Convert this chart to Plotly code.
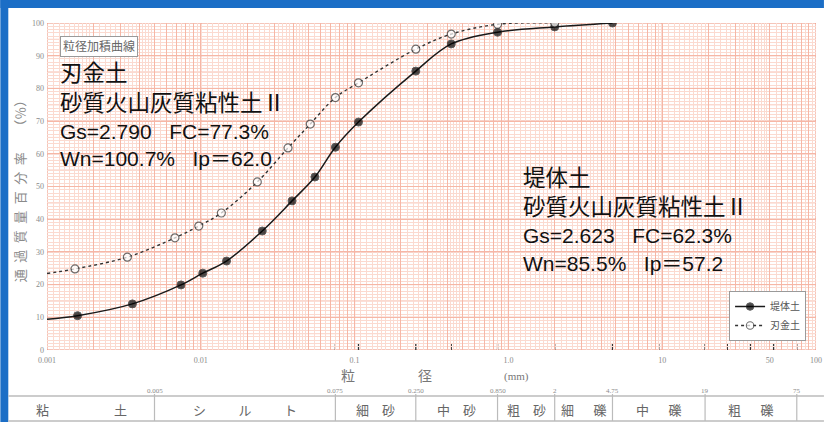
import math
import plotly.graph_objects as go

# ---------------- data ----------------
# 堤体土 (embankment soil): grain size (mm) / percent passing
d_embank = [0.00158, 0.00359, 0.00743, 0.0103, 0.0147, 0.0251, 0.0392, 0.0552,
            0.075, 0.106, 0.25, 0.425, 0.85, 2.0, 4.75]
p_embank = [10.5, 14.1, 19.9, 23.5, 27.2, 36.4, 45.6, 52.9,
            62.0, 69.7, 85.3, 93.6, 97.2, 98.8, 100.0]
# 刃金土 (core soil)
d_core = [0.00152, 0.00333, 0.00679, 0.0097, 0.0136, 0.0233, 0.0369, 0.0515,
          0.075, 0.106, 0.25, 0.425, 0.85, 2.0]
p_core = [24.8, 28.4, 34.3, 37.9, 41.9, 51.4, 61.8, 69.1,
          77.2, 81.7, 92.0, 96.6, 99.6, 100.0]
# curves drawn on to the left edge of the chart (no marker there)
d_left_edge = 0.001
p_embank_left = 9.4
p_core_left = 23.4

series_names = ["堤体土", "刃金土"]

sieve_sizes = [0.075, 0.106, 0.25, 0.425, 0.85, 2, 4.75, 9.5, 19, 26.5, 37.5, 53, 75]
x_decades = [0.001, 0.01, 0.1, 1, 10, 100]
x_decade_text = ["0.001", "0.01", "0.1", "1.0", "10", "100"]
x_extra_label_val = 50
x_extra_label_text = "50"
y_tick_vals = list(range(0, 101, 10))

class_bounds = [0.005, 0.075, 0.25, 0.85, 2, 4.75, 19, 75]
class_bound_labels = ["0.005", "0.075", "0.250", "0.850", "2", "4.75", "19", "75"]
class_names = ["粘　　　　　土", "シ　　\u2002ル　　\u2002ト", "細　砂", "中　砂", "粗　砂",
               "細\u3000\u2002礫", "中\u3000\u2002礫", "粗\u3000\u2002礫"]

left_text = ["刃金土", "砂質火山灰質粘性土Ⅱ", "Gs=2.790   FC=77.3%", "Wn=100.7%   Ip＝62.0"]
right_text = ["堤体土", "砂質火山灰質粘性土Ⅱ", "Gs=2.623   FC=62.3%", "Wn=85.5%   Ip＝57.2"]

# ---------------- layout helpers ----------------
W, H = 830, 422
L, R, T, B = 47, 8, 23, 72
PW, PH = W - L - R, H - T - B


def fx(px):
    return (px - L) / PW


def fy(py):
    return (H - B - py) / PH


# grid positions of log paper
medium_x = [m * 10 ** e for e in range(-3, 2) for m in range(2, 10)]
fine_steps = [1.1, 1.2, 1.3, 1.4, 1.5, 1.6, 1.7, 1.8, 1.9,
              2.2, 2.4, 2.6, 2.8, 3.2, 3.4, 3.6, 3.8, 4.2, 4.4, 4.6, 4.8,
              5.5, 6.5, 7.5, 8.5, 9.5]
fine_x = [s * 10 ** e for e in range(-3, 2) for s in fine_steps]

x_tick_all = sorted(x_decades + medium_x)


def x_label(v):
    for d, t in zip(x_decades, x_decade_text):
        if abs(v - d) < 1e-12:
            return t
    if abs(v - x_extra_label_val) < 1e-9:
        return x_extra_label_text
    return ""


GRID_FINE = "#fbdad0"
GRID_MED = "#f6b7a6"
GRID_DARK = "#ec8d77"
SERIF = "Liberation Serif, Noto Sans CJK JP"
SANS = "Liberation Sans, Noto Sans CJK JP"

fig = go.Figure()

fig.add_trace(go.Scatter(
    x=[d_left_edge] + d_embank, y=[p_embank_left] + p_embank,
    mode="lines+markers", name=series_names[0],
    line=dict(color="#1a1a1a", width=1.5, shape="spline", smoothing=1.0),
    marker=dict(size=[0] + [8] * len(d_embank), color="#000000"),
))
fig.add_trace(go.Scatter(
    x=[d_left_edge] + d_core, y=[p_core_left] + p_core,
    mode="lines+markers", name=series_names[1],
    line=dict(color="#333333", width=1.4, dash="dot", shape="spline", smoothing=1.0),
    marker=dict(size=[0] + [8] * len(d_core), color="white",
                line=dict(color="#333333", width=[0] + [1.2] * len(d_core))),
))

xrange_log = [math.log10(x_decades[0]), math.log10(x_decades[-1])]
tickfont = dict(family=SERIF, size=8, color="#8a8a8a")

fig.update_layout(
    width=W, height=H,
    margin=dict(l=L, r=R, t=T, b=B),
    paper_bgcolor="white", plot_bgcolor="white",
    showlegend=True,
    legend=dict(x=fx(812), xanchor="right", y=fy(341), yanchor="bottom",
                bgcolor="white", bordercolor="#9a9a9a", borderwidth=1,
                font=dict(family=SERIF, size=10, color="#555555"),
                tracegroupgap=0, itemwidth=30),
    xaxis=dict(type="log", range=xrange_log,
               tickvals=x_tick_all, ticktext=[x_label(v) for v in x_tick_all],
               tickfont=tickfont, ticks="", ticklabelstandoff=4,
               showgrid=True, gridcolor=GRID_MED, gridwidth=1,
               minor=dict(tickvals=fine_x, showgrid=True, gridcolor=GRID_FINE, gridwidth=1, ticks=""),
               zeroline=False, showline=False, fixedrange=True),
    yaxis=dict(range=[0, 100], tickvals=y_tick_vals, tickfont=tickfont, ticks="",
               ticklabelstandoff=2,
               showgrid=True, gridcolor=GRID_MED, gridwidth=1,
               minor=dict(dtick=1, showgrid=True, gridcolor=GRID_FINE, gridwidth=1, ticks=""),
               zeroline=False, showline=False, fixedrange=True),
)

shapes = []
annotations = []

# darker log-paper lines (decades, every 10 %), medium lines at 5 %
for d in x_decades:
    shapes.append(dict(type="line", xref="x", yref="paper", x0=d, x1=d, y0=0, y1=1,
                       line=dict(color=GRID_DARK, width=1), layer="between"))
for v in y_tick_vals:
    shapes.append(dict(type="line", xref="paper", yref="y", x0=0, x1=1, y0=v, y1=v,
                       line=dict(color=GRID_DARK, width=1), layer="between"))
for v in y_tick_vals[:-1]:
    shapes.append(dict(type="line", xref="paper", yref="y", x0=0, x1=1, y0=v + 5, y1=v + 5,
                       line=dict(color=GRID_MED, width=1), layer="between"))
# sieve tick marks along the bottom
for s in sieve_sizes:
    shapes.append(dict(type="line", xref="x", yref="paper", x0=s, x1=s, y0=0, y1=6 / PH,
                       line=dict(color="#333333", width=1.3), layer="between"))

# blue frame (top and left)
BLUE = "#1b6ec6"
shapes.append(dict(type="rect", xref="paper", yref="paper", x0=fx(0), x1=fx(W), y0=fy(8), y1=fy(0),
                   fillcolor=BLUE, line=dict(width=0), layer="above"))
shapes.append(dict(type="rect", xref="paper", yref="paper", x0=fx(0), x1=fx(8), y0=fy(H), y1=fy(0),
                   fillcolor=BLUE, line=dict(width=0), layer="above"))

# title box
annotations.append(dict(text="粒径加積曲線", xref="paper", yref="paper", x=fx(60), y=fy(46),
                        xanchor="left", yanchor="middle", showarrow=False,
                        font=dict(family=SERIF, size=12, color="#666666"),
                        bgcolor="white", bordercolor="#9a9a9a", borderwidth=1, borderpad=2))

# property texts
for txt, py in zip(left_text, [74, 103, 131, 158]):
    annotations.append(dict(text=txt, xref="paper", yref="paper", x=fx(58), y=fy(py),
                            xanchor="left", yanchor="middle", showarrow=False,
                            font=dict(family=SANS, size=21 if txt[0] in "GW" else 22.5, color="#111111")))
for txt, py in zip(right_text, [178, 207, 235, 263]):
    annotations.append(dict(text=txt, xref="paper", yref="paper", x=fx(525), y=fy(py),
                            xanchor="left", yanchor="middle", showarrow=False,
                            font=dict(family=SANS, size=21 if txt[0] in "GW" else 22.5, color="#111111")))

# axis titles
for txt, px, sz in [("粒", 350, 14), ("径", 428, 14), ("(mm)", 520, 11)]:
    annotations.append(dict(text=txt, xref="paper", yref="paper", x=fx(px), y=fy(376),
                            xanchor="center", yanchor="middle", showarrow=False,
                            font=dict(family=SERIF, size=sz, color="#777777")))
annotations.append(dict(text="通\u2002過\u2002質\u2002量\u2002百\u2002分\u2002率\u3000\u3000（％）",
                        xref="paper", yref="paper", x=fx(20), y=fy(188), textangle=-90,
                        xanchor="center", yanchor="middle", showarrow=False,
                        font=dict(family=SERIF, size=13, color="#8a8a8a")))

# soil classification table
TBL_TOP, TBL_BOT = 396, 421
for py in (TBL_TOP, TBL_BOT):
    shapes.append(dict(type="line", xref="paper", yref="paper", x0=fx(8), x1=fx(W), y0=fy(py), y1=fy(py),
                       line=dict(color="#bbbbbb", width=1.5)))
for b, lab in zip(class_bounds, class_bound_labels):
    shapes.append(dict(type="line", xref="x", yref="paper", x0=b, x1=b, y0=fy(TBL_BOT), y1=fy(TBL_TOP - 2),
                       line=dict(color="#bbbbbb", width=1.2)))
    annotations.append(dict(text=lab, xref="x", yref="paper", x=math.log10(b), y=fy(391),
                            xanchor="center", yanchor="middle", showarrow=False,
                            font=dict(family=SERIF, size=7, color="#8a8a8a")))
left_edge_log = xrange_log[0] + fx(8) * (xrange_log[1] - xrange_log[0])
cell_edges = [left_edge_log] + [math.log10(b) for b in class_bounds]
for i, name in enumerate(class_names):
    cx = (cell_edges[i] + cell_edges[i + 1]) / 2
    annotations.append(dict(text=name, xref="x", yref="paper", x=cx, y=fy(410),
                            xanchor="center", yanchor="middle", showarrow=False,
                            font=dict(family=SERIF, size=13, color="#666666")))

fig.update_layout(shapes=shapes, annotations=annotations)
fig.write_html("out.html", config={"displayModeBar": False},
               post_script="document.body.style.margin='0';document.body.style.padding='0';"
                           "document.body.style.overflow='hidden';")
